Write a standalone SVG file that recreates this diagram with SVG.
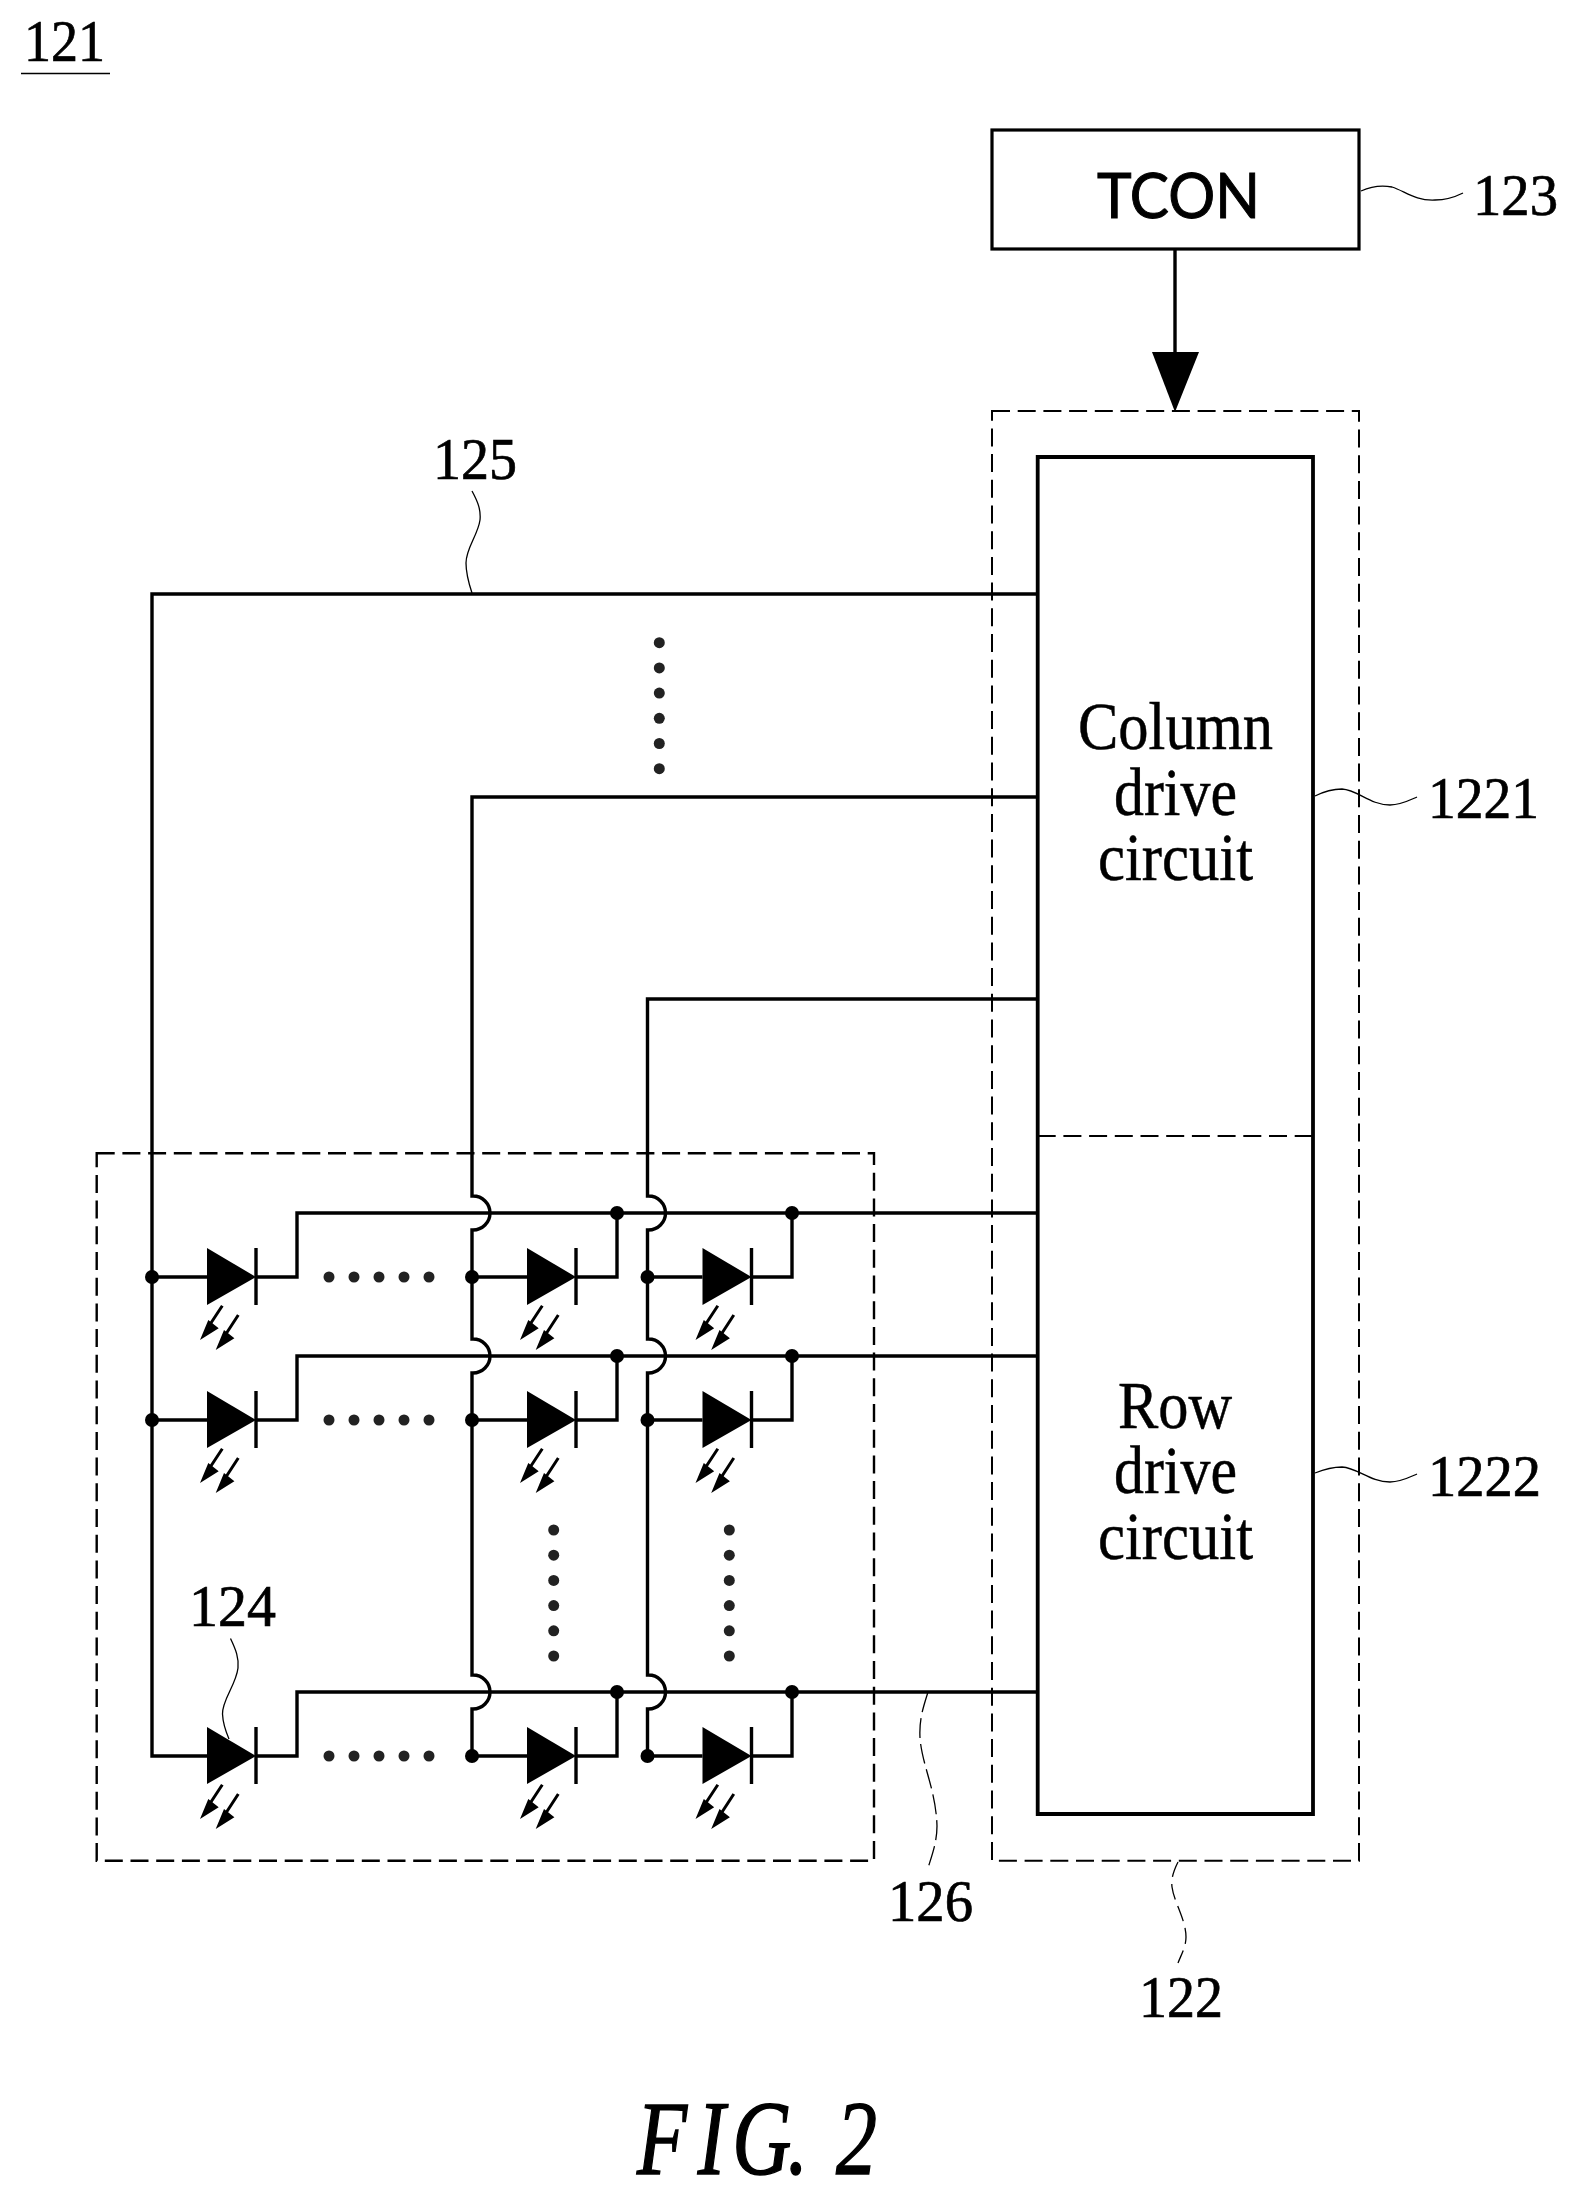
<svg xmlns="http://www.w3.org/2000/svg" width="1576" height="2196" viewBox="0 0 1576 2196">
<style>
.wire{fill:none;stroke:#000;stroke-width:3.4}
.box{fill:#fff;stroke:#000;stroke-width:3.2}
.dash{fill:none;stroke:#000;stroke-width:2.4;stroke-dasharray:18 7.7}
.lead{fill:none;stroke:#000;stroke-width:1.3}
.dot{fill:#000}
.stip{fill:#222}
.num{font-family:"Liberation Serif",serif;font-size:60px;fill:#000;stroke:#000;stroke-width:.7}
.lab{font-family:"Liberation Serif",serif;font-size:68px;fill:#000;stroke:#000;stroke-width:.5}
</style>
<defs>
<g id="led">
<path d="M55,-29 L55,28 L104,0 Z" fill="#000"/>
<path d="M104,-29 V28" class="wire"/>
<path d="M70.300,28.700 L55,52 M86.300,38 L71,61.500" stroke="#000" stroke-width="3" fill="none"/>
<path d="M48,63 L56.300,43 L66.700,51.300 Z M63.700,73 L72,53 L82.400,61.300 Z" fill="#000"/>
</g>
<g id="hdots">
<circle cx="329" cy="0" r="5.500"/><circle cx="354" cy="0" r="5.500"/><circle cx="379" cy="0" r="5.500"/><circle cx="404" cy="0" r="5.500"/><circle cx="429" cy="0" r="5.500"/>
</g>
<g id="vdots">
<circle cx="0" cy="0" r="5.500"/><circle cx="0" cy="25.200" r="5.500"/><circle cx="0" cy="50.400" r="5.500"/><circle cx="0" cy="75.600" r="5.500"/><circle cx="0" cy="100.800" r="5.500"/><circle cx="0" cy="126" r="5.500"/>
</g>
</defs>
<rect width="1576" height="2196" fill="#fff"/>

<g id="label-121">
<text class="num" x="24" y="61" textLength="81" lengthAdjust="spacingAndGlyphs">121</text>
<path d="M21,73.500 H110" stroke="#000" stroke-width="1.600"/>
</g>

<g id="node-126-array">
<rect x="96.700" y="1153.300" width="777.300" height="707.400" class="dash"/>
</g>
<g id="node-122-driver">
<rect x="992" y="411" width="367" height="1449.700" class="dash" style="stroke-width:2"/>
</g>

<g id="connectors">
<path class="wire" d="M1037,594 H152 V1756 H207"/>
<path class="wire" d="M1037,797 H472 V1196 H473 A17,17 0 0 1 473,1230 H472 V1339 H473 A17,17 0 0 1 473,1373 H472 V1675 H473 A17,17 0 0 1 473,1709 H472 V1756 H527"/>
<path class="wire" d="M1037,999 H647.500 V1196 H648.500 A17,17 0 0 1 648.500,1230 H647.500 V1339 H648.500 A17,17 0 0 1 648.500,1373 H647.500 V1675 H648.500 A17,17 0 0 1 648.500,1709 H647.500 V1756 H702.500"/>
<path class="wire" d="M152,1277 H207 M256,1277 H297 V1213 H1037 M472,1277 H527 M576,1277 H617 V1213 M647.500,1277 H702.500 M751.500,1277 H792 V1213"/>
<path class="wire" d="M152,1420 H207 M256,1420 H297 V1356 H1037 M472,1420 H527 M576,1420 H617 V1356 M647.500,1420 H702.500 M751.500,1420 H792 V1356"/>
<path class="wire" d="M256,1756 H297 V1692 H1037 M576,1756 H617 V1692 M751.500,1756 H792 V1692"/>
<path class="wire" d="M1175,250 V356"/>
<path d="M1152,352 H1199 L1175,412 Z" fill="#000"/>
<g class="dot">
<circle cx="152" cy="1277" r="7"/><circle cx="152" cy="1420" r="7"/>
<circle cx="472" cy="1277" r="7"/><circle cx="472" cy="1420" r="7"/><circle cx="472" cy="1756" r="7"/>
<circle cx="647.500" cy="1277" r="7"/><circle cx="647.500" cy="1420" r="7"/><circle cx="647.500" cy="1756" r="7"/>
<circle cx="617" cy="1213" r="7"/><circle cx="617" cy="1356" r="7"/><circle cx="617" cy="1692" r="7"/>
<circle cx="792" cy="1213" r="7"/><circle cx="792" cy="1356" r="7"/><circle cx="792" cy="1692" r="7"/>
</g>
<g class="stip">
<use href="#hdots" y="1277"/><use href="#hdots" y="1420"/><use href="#hdots" y="1756"/>
<use href="#vdots" x="659.300" y="642.700"/><use href="#vdots" x="553.700" y="1530"/><use href="#vdots" x="729.300" y="1530"/>
</g>
</g>

<g id="led-1-1"><use href="#led" x="152" y="1277"/></g>
<g id="led-1-2"><use href="#led" x="472" y="1277"/></g>
<g id="led-1-3"><use href="#led" x="647.500" y="1277"/></g>
<g id="led-2-1"><use href="#led" x="152" y="1420"/></g>
<g id="led-2-2"><use href="#led" x="472" y="1420"/></g>
<g id="led-2-3"><use href="#led" x="647.500" y="1420"/></g>
<g id="led-3-1"><use href="#led" x="152" y="1756"/></g>
<g id="led-3-2"><use href="#led" x="472" y="1756"/></g>
<g id="led-3-3"><use href="#led" x="647.500" y="1756"/></g>

<g id="node-tcon">
<rect x="992" y="130" width="367" height="119" class="box"/>
<text x="1097" y="217.500" textLength="163" lengthAdjust="spacingAndGlyphs" style="font-family:Lato,'Open Sans',sans-serif;font-size:61px;fill:#000;stroke:#000;stroke-width:1">TCON</text>
</g>

<g id="node-1221-1222">
<path d="M1037.700,1136 H1313" class="dash" style="stroke-width:2"/>
<path class="wire" style="stroke-width:3.800" d="M1037.700,457 H1313 V1814 H1037.700 Z"/>
</g>
<g id="text-column">
<text class="lab" x="1078" y="749.300" textLength="195" lengthAdjust="spacingAndGlyphs">Column</text>
<text class="lab" x="1114" y="815" textLength="123" lengthAdjust="spacingAndGlyphs">drive</text>
<text class="lab" x="1098" y="880" textLength="155" lengthAdjust="spacingAndGlyphs">circuit</text>
</g>
<g id="text-row">
<text class="lab" x="1118" y="1428" textLength="114" lengthAdjust="spacingAndGlyphs">Row</text>
<text class="lab" x="1114" y="1493" textLength="123" lengthAdjust="spacingAndGlyphs">drive</text>
<text class="lab" x="1098" y="1559" textLength="155" lengthAdjust="spacingAndGlyphs">circuit</text>
</g>

<g id="label-123">
<path class="lead" d="M1361,191 C1372,186 1382,185 1392,187 C1405,191 1415,201 1435,200 C1445,200 1455,197 1463,193"/>
<text class="num" x="1473" y="215" textLength="85" lengthAdjust="spacingAndGlyphs">123</text>
</g>
<g id="label-1221">
<path class="lead" d="M1315,796 C1325,791 1333,789 1342,789 C1358,790 1370,805 1390,805 C1400,805 1408,801 1417,797"/>
<text class="num" x="1428" y="818" textLength="111" lengthAdjust="spacingAndGlyphs">1221</text>
</g>
<g id="label-1222">
<path class="lead" d="M1315,1473 C1325,1469 1333,1467 1342,1467 C1358,1468 1370,1482 1390,1482 C1400,1482 1408,1478 1417,1474"/>
<text class="num" x="1428" y="1495.700" textLength="113" lengthAdjust="spacingAndGlyphs">1222</text>
</g>
<g id="label-125">
<path class="lead" d="M472,491 C478,502 481,510 480,520 C478,535 466,548 466,563 C466,575 469,584 472,593"/>
<text class="num" x="433" y="479" textLength="84" lengthAdjust="spacingAndGlyphs">125</text>
</g>
<g id="label-124">
<path class="lead" d="M230.500,1638.500 C236,1650 239,1658 238,1668 C236,1685 222,1700 222.500,1714 C223,1725 226,1732 229,1739"/>
<text class="num" x="189" y="1626" textLength="87" lengthAdjust="spacingAndGlyphs">124</text>
</g>
<g id="label-126">
<path class="lead" style="stroke-dasharray:20 6" d="M927.700,1693 C923,1708 919,1720 920,1738 C922,1765 936,1790 937,1826 C937,1842 932,1855 928,1868"/>
<text class="num" x="888" y="1921" textLength="85" lengthAdjust="spacingAndGlyphs">126</text>
</g>
<g id="label-122">
<path class="lead" style="stroke-dasharray:16 7" d="M1178,1862 C1174,1870 1171,1878 1172,1887 C1174,1902 1186,1920 1186,1937 C1186,1947 1181,1955 1178,1963"/>
<text class="num" x="1139" y="2016.700" textLength="84" lengthAdjust="spacingAndGlyphs">122</text>
</g>
<g id="label-fig">
<text transform="translate(637,2174) scale(.78,1)" x="0 78 122 193 270 255" style="font-family:'Liberation Serif',serif;font-style:italic;font-size:105px;fill:#000;stroke:#000;stroke-width:1.500">FIG. 2</text>
</g>
</svg>
